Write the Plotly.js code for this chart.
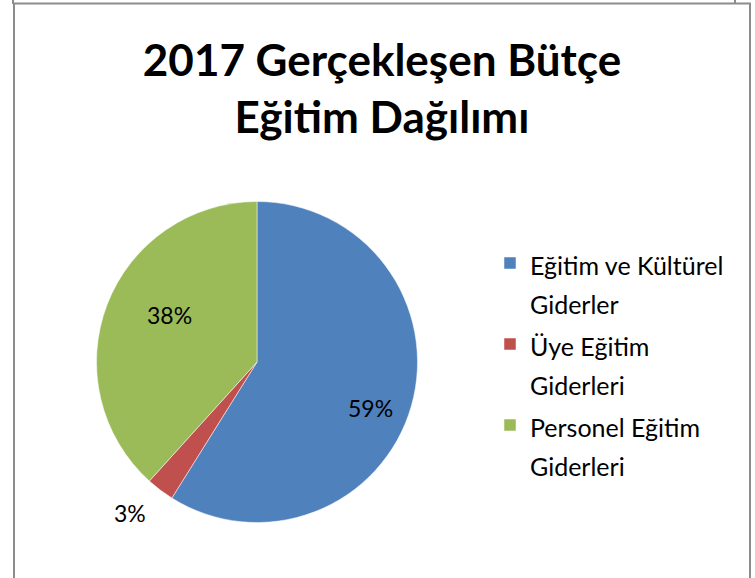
<!DOCTYPE html>
<html>
<head>
<meta charset="utf-8">
<script src="https://cdn.plot.ly/plotly-3.0.1.min.js"></script>
<style>html,body{margin:0;padding:0;background:#fff;}#chart{width:755px;height:578px;}</style>
</head>
<body>
<div id="chart"></div>
<script>
const categories = ["Eğitim ve Kültürel<br>Giderler", "Üye Eğitim<br>Giderleri", "Personel Eğitim<br>Giderleri"];
const values = [58.9, 2.8, 38.3];
const colors = ["#4F81BD", "#C0504D", "#9BBB59"];
const titleText = "2017 Gerçekleşen Bütçe<br>Eğitim Dağılımı";

// label placement style (radius as fraction of pie radius, angular nudge in degrees)
const labelRadius = [0.76, 1.23, 0.62];
const labelAngleShift = [6, 3, 7];

const W = 755, H = 578;
const cx = 257, cy = 362, r = 160.5;
const FONT = "Lato, 'Open Sans', sans-serif";

const trace = {
  type: "pie",
  labels: categories.map(c => "<span style='font-size:25px'>" + c + "</span>"),
  values: values,
  sort: false,
  direction: "clockwise",
  rotation: 0,
  marker: {colors: colors, line: {color: "#ffffff", width: 0.5}},
  textinfo: "none",
  automargin: false,
  hoverinfo: "label+percent",
  domain: {x: [(cx - r) / W, (cx + r) / W], y: [(H - cy - r) / H, (H - cy + r) / H]}
};

// percentage labels computed from the data
const total = values.reduce((a, b) => a + b, 0);
let cum = 0;
const annotations = values.map((v, i) => {
  const mid = (cum + v / 2) / total * 360 + labelAngleShift[i];
  cum += v;
  const rad = mid * Math.PI / 180;
  const px = cx + Math.sin(rad) * r * labelRadius[i];
  const py = cy - Math.cos(rad) * r * labelRadius[i];
  return {
    xref: "paper", yref: "paper", x: px / W, y: 1 - py / H,
    xanchor: "center", yanchor: "middle", showarrow: false,
    text: Math.round(v / total * 100) + "%",
    font: {family: FONT, size: 23, color: "#000000"}
  };
});

const gray = "#8c8c8c";
const layout = {
  width: W, height: H,
  margin: {l: 0, r: 0, t: 0, b: 0},
  paper_bgcolor: "#ffffff",
  showlegend: true,
  title: {
    text: titleText,
    font: {family: FONT, size: 44, color: "#000000", weight: "bold"},
    x: 382 / W, xanchor: "center",
    y: 1 - 76 / H, yanchor: "top", yref: "container"
  },
  legend: {
    x: 490 / W, xanchor: "left",
    y: 1 - 237 / H, yanchor: "top",
    valign: "top",
    font: {family: FONT, size: 30, color: "#000000"},
    bgcolor: "rgba(0,0,0,0)",
    traceorder: "normal"
  },
  annotations: annotations,
  shapes: [
    {type: "rect", xref: "paper", yref: "paper", x0: 14 / W, x1: 750 / W, y0: -0.05, y1: 1 - 3.5 / H,
     line: {color: gray, width: 2}, fillcolor: "rgba(0,0,0,0)"},
    {type: "line", xref: "paper", yref: "paper", x0: 13 / W, x1: 13 / W, y0: 1 - 4 / H, y1: 1.01,
     line: {color: gray, width: 2}},
    {type: "line", xref: "paper", yref: "paper", x0: 735 / W, x1: 735 / W, y0: 1 - 4 / H, y1: 1.01,
     line: {color: gray, width: 2}}
  ]
};

Plotly.newPlot("chart", [trace], layout, {displayModeBar: false, staticPlot: true});
</script>
</body>
</html>
